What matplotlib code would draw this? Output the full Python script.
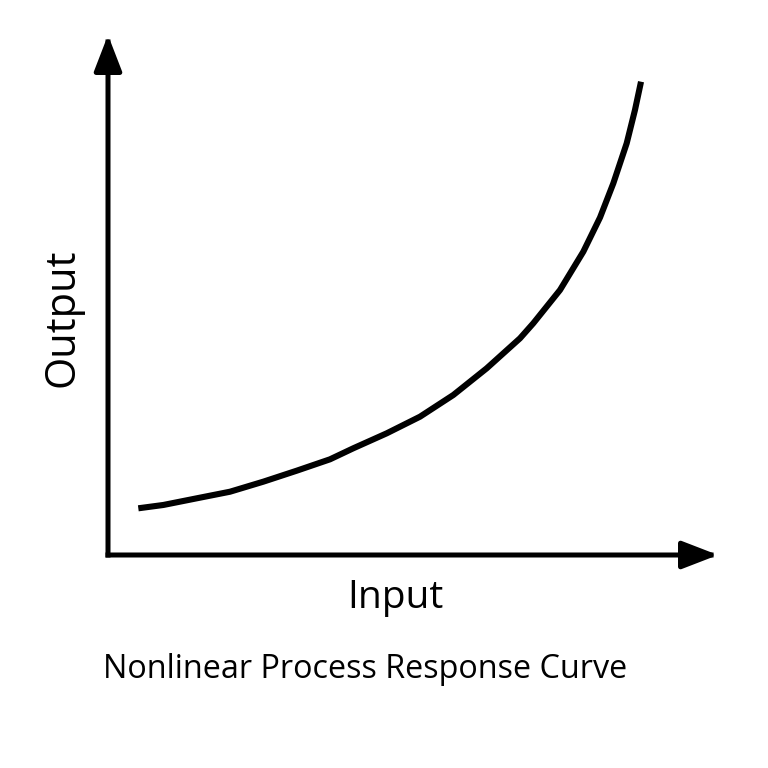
import matplotlib
matplotlib.use("Agg")
import matplotlib.pyplot as plt

# Puntos (unidades arbitrarias, ejes 0-10)
entrada = [0.497, 0.907, 1.454, 2.000, 2.546, 3.093, 3.639, 4.021, 4.569,
           5.115, 5.661, 6.208, 6.754, 6.972, 7.410, 7.792, 8.066, 8.284,
           8.503, 8.639, 8.738]
salida = [0.898, 0.962, 1.090, 1.217, 1.410, 1.621, 1.840, 2.052, 2.340,
          2.660, 3.077, 3.590, 4.167, 4.456, 5.096, 5.833, 6.490, 7.148,
          7.917, 8.558, 9.102]

titulo = "Nonlinear Process Response Curve"
etiqueta_x = "Input"
etiqueta_y = "Output"

plt.rcParams['font.family'] = ['Open Sans', 'DejaVu Sans']

fig = plt.figure(figsize=(7.68, 7.68), dpi=100)
W = H = 768.0
# ejes: origen en (108,555) px, flechas hasta x=718 y y=35
ax = fig.add_axes([108 / W, (H - 555) / H, (718 - 108) / W, (555 - 35) / H])
ax.set_xlim(0, 10)
ax.set_ylim(0, 10)
ax.axis("off")

# Curva
ax.plot(entrada, salida, color="black", linewidth=4.4,
        solid_capstyle="butt", solid_joinstyle="round", clip_on=False)

# Ejes con flechas
estilo = "-|>,head_length=2.2,head_width=0.85"
for fin in [(10, 0), (0, 10)]:
    ax.annotate("", xy=fin, xytext=(0, 0),
                arrowprops=dict(arrowstyle=estilo, color="black", lw=3.6,
                                mutation_scale=10, shrinkA=0, shrinkB=0,
                                capstyle="projecting"),
                annotation_clip=False)

# Textos
fig.text(395 / W, 1 - 598 / H, etiqueta_x, fontsize=28, ha="center", va="center")
fig.text(62 / W, 1 - 318 / H, etiqueta_y, fontsize=30, ha="center", va="center",
         rotation=90)
fig.text(365 / W, 1 - 670 / H, titulo, fontsize=23.3, ha="center", va="center")

fig.savefig("out.png", dpi=100, facecolor="white")
